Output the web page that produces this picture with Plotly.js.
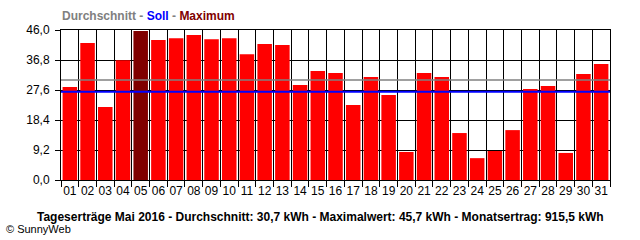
<!DOCTYPE html>
<html><head><meta charset="utf-8">
<script src="https://cdn.plot.ly/plotly-3.0.1.min.js"></script>
<style>body{margin:0;background:#fff}#c{width:640px;height:240px}</style>
</head><body><div id="c"></div>
<script>
const days = ["01","02","03","04","05","06","07","08","09","10","11","12","13","14","15","16","17","18","19","20","21","22","23","24","25","26","27","28","29","30","31"];
const ertrag = [28.5,42.0,22.4,36.7,45.7,42.9,43.5,44.5,43.2,43.5,38.6,41.7,41.4,29.1,33.4,32.8,23.0,31.6,26.1,8.6,32.8,31.6,14.4,6.7,8.9,15.3,27.9,28.8,8.3,32.5,35.6];
const durchschnitt = 30.7;
const soll = 27.1;
const maximalwert = 45.7;
const monatsertrag = 915.5;
const yTicks = [0, 9.2, 18.4, 27.6, 36.8, 46.0];

const fmt = v => v.toFixed(1).replace('.', ',');
const colors = ertrag.map(v => v === Math.max(...ertrag) ? '#800000' : '#FF0000');

const data = [{
  type: 'bar', x: days, y: ertrag, marker: {color: colors, line: {width: 0}}, width: 0.82,
  hoverinfo: 'none'
}];

const layout = {
  width: 640, height: 240,
  margin: {l: 61, r: 30, t: 30, b: 60},
  paper_bgcolor: '#fff', plot_bgcolor: '#fff',
  separators: ',.',
  showlegend: false,
  font: {family: 'Liberation Sans, Arial, sans-serif', size: 12, color: '#000'},
  xaxis: {
    type: 'category', tickson: 'boundaries', showgrid: true, gridcolor: '#000', gridwidth: 1,
    ticks: 'outside', ticklen: 6, tickcolor: '#000', tickwidth: 1, tickangle: 0,
    showline: true, linecolor: '#000', linewidth: 1, mirror: true,
    range: [-0.5, 30.5], fixedrange: true, tickfont: {size: 12}
  },
  yaxis: {
    range: [0, 46], tickvals: yTicks, ticktext: yTicks.map(fmt),
    showgrid: true, gridcolor: '#000', gridwidth: 1, zeroline: false,
    ticks: 'outside', ticklen: 5, tickcolor: '#000', tickwidth: 1,
    showline: true, linecolor: '#000', linewidth: 1, mirror: true,
    ticklabelstandoff: 3, tickfont: {size: 12}
  },
  shapes: [
    {type: 'line', xref: 'paper', x0: 0, x1: 1, yref: 'y', y0: durchschnitt, y1: durchschnitt, line: {color: '#808080', width: 1.5}, layer: 'above'},
    {type: 'line', xref: 'paper', x0: 0, x1: 1, yref: 'y', y0: soll, y1: soll, line: {color: '#0000FF', width: 2}, layer: 'above'}
  ],
  annotations: [
    {xref: 'paper', yref: 'paper', x: -0.001, y: 1, yshift: 14, xanchor: 'left', yanchor: 'middle', showarrow: false,
     font: {family: 'Liberation Sans, Arial, sans-serif', size: 12, color: '#808080'},
     text: '<b><span style="color:#808080">Durchschnitt</span> - <span style="color:#0000FF">Soll</span> - <span style="color:#800000">Maximum</span></b>'},
    {xref: 'paper', yref: 'paper', x: 0.5, y: 0, yshift: -37, xshift: -15, xanchor: 'center', yanchor: 'middle', showarrow: false,
     font: {family: 'Liberation Sans, Arial, sans-serif', size: 12, color: '#000'},
     text: '<b>Tageserträge Mai 2016 - Durchschnitt: ' + fmt(durchschnitt) + ' kWh - Maximalwert: ' + fmt(maximalwert) + ' kWh - Monatsertrag: ' + fmt(monatsertrag) + ' kWh</b>'},
    {xref: 'paper', yref: 'paper', x: 0, xshift: -57, y: 0, yshift: -49, xanchor: 'left', yanchor: 'middle', showarrow: false,
     font: {family: 'Liberation Sans, Arial, sans-serif', size: 11, color: '#000'},
     text: '© SunnyWeb'}
  ]
};
Plotly.newPlot('c', data, layout, {staticPlot: true, displayModeBar: false});
</script></body></html>
